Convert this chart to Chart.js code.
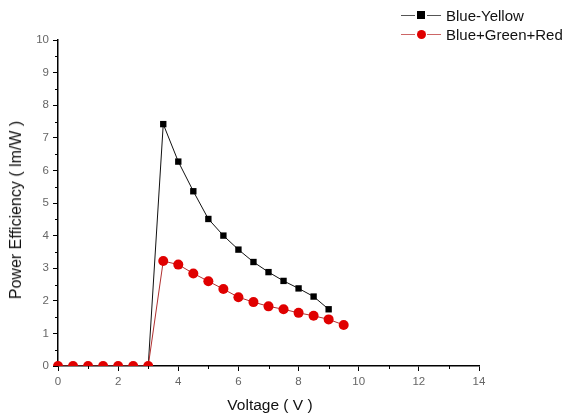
<!DOCTYPE html>
<html>
<head>
<meta charset="utf-8">
<script src="https://cdn.jsdelivr.net/npm/chart.js@4/dist/chart.umd.min.js"></script>
<style>
  html, body { margin:0; padding:0; background:#fff; }
  #wrap { position:relative; width:566px; height:418px; font-family:"Liberation Sans", Arial, sans-serif; }
  #c { position:absolute; left:0; top:0; }
  .legend { position:absolute; left:400px; top:6px; font-size:15px; color:#111; }
  .row { display:flex; align-items:center; height:19px; }
  .key { position:relative; width:42px; height:19px; margin-right:4px; }
  .key .l1 { position:absolute; left:1px; width:14px; top:9px; height:1px; }
  .key .l2 { position:absolute; left:27px; width:14px; top:9px; height:1px; }
  .key .mk { position:absolute; left:17px; top:5px; width:8px; height:8px; }
  .xt { position:absolute; left:170px; width:200px; top:396px; text-align:center; font-size:15.5px; color:#111; }
  .yt { position:absolute; left:15.5px; top:210px; font-size:16px; color:#111; white-space:nowrap; transform:translate(-50%,-50%) rotate(-90deg); }
</style>
</head>
<body>
<div id="wrap">
<canvas id="c" width="566" height="418"></canvas>
<div class="legend">
  <div class="row"><div class="key"><div class="l1" style="background:#555"></div><div class="mk" style="background:#000"></div><div class="l2" style="background:#555"></div></div>Blue-Yellow</div>
  <div class="row"><div class="key"><div class="l1" style="background:#c66"></div><div class="mk" style="background:#e00000;border-radius:50%;width:9px;height:9px;left:16.5px;top:4.5px"></div><div class="l2" style="background:#c66"></div></div>Blue+Green+Red</div>
</div>
<div class="xt">Voltage ( V )</div>
<div class="yt">Power Efficiency ( lm/W )</div>
</div>
<script>
const voltage = [0, 0.5, 1, 1.5, 2, 2.5, 3, 3.5, 4, 4.5, 5, 5.5, 6, 6.5, 7, 7.5, 8, 8.5, 9, 9.5];
const blueYellow = [0, 0, 0, 0, 0, 0, 0, 7.42, 6.27, 5.36, 4.51, 4.00, 3.57, 3.19, 2.88, 2.61, 2.38, 2.13, 1.74, null];
const blueGreenRed = [0, 0, 0, 0, 0, 0, 0, 3.22, 3.11, 2.84, 2.60, 2.36, 2.11, 1.96, 1.83, 1.74, 1.63, 1.54, 1.43, 1.26];
const xTicks = [0, 2, 4, 6, 8, 10, 12, 14];
const yTicks = [0, 1, 2, 3, 4, 5, 6, 7, 8, 9, 10];

function pts(ys) {
  const out = [];
  ys.forEach((y, i) => { if (y !== null) out.push({ x: voltage[i], y: y }); });
  return out;
}

const minorTicks = {
  id: 'minorTicks',
  afterDraw(chart) {
    const ctx = chart.ctx, xs = chart.scales.x, ys = chart.scales.y;
    ctx.save();
    ctx.strokeStyle = '#000';
    ctx.lineWidth = 1;
    ctx.beginPath();
    for (let v = 1; v < 14; v += 2) {
      const px = Math.round(xs.getPixelForValue(v)) + 0.5;
      ctx.moveTo(px, ys.bottom); ctx.lineTo(px, ys.bottom + 3);
    }
    for (let v = 0.5; v < 10; v += 1) {
      const py = Math.round(ys.getPixelForValue(v)) + 0.5;
      ctx.moveTo(xs.left, py); ctx.lineTo(xs.left - 3, py);
    }
    ctx.stroke();
    ctx.restore();
  }
};

new Chart(document.getElementById('c'), {
  type: 'line',
  data: {
    datasets: [
      {
        label: 'Blue-Yellow',
        data: pts(blueYellow),
        borderColor: '#111',
        borderWidth: 1,
        backgroundColor: '#000',
        pointStyle: 'rect',
        pointRadius: 4.5,
        pointBorderWidth: 0,
        tension: 0,
        order: 1,
        clip: { left: 6, top: 6, right: 6, bottom: 0 }
      },
      {
        label: 'Blue+Green+Red',
        data: pts(blueGreenRed),
        borderColor: '#b03030',
        borderWidth: 1,
        backgroundColor: '#e00000',
        pointStyle: 'circle',
        pointRadius: 5,
        pointBorderWidth: 0,
        tension: 0,
        order: 0,
        clip: { left: 6, top: 6, right: 6, bottom: 0 }
      }
    ]
  },
  options: {
    responsive: false,
    animation: false,
    layout: { padding: { top: 40, right: 87, bottom: 0, left: 0 } },
    plugins: { legend: { display: false }, tooltip: { enabled: false } },
    scales: {
      x: {
        type: 'linear', min: 0, max: 14,
        afterBuildTicks: s => { s.ticks = xTicks.map(v => ({ value: v })); },
        afterFit: s => { s.height = 52; },
        grid: { display: true, drawOnChartArea: false, color: '#000', tickLength: 5 },
        border: { color: '#000', width: 1.5 },
        ticks: { color: '#666', font: { family: 'Liberation Sans', size: 11.5 }, padding: 4, maxRotation: 0 }
      },
      y: {
        type: 'linear', min: 0, max: 10,
        afterBuildTicks: s => { s.ticks = yTicks.map(v => ({ value: v })); },
        afterFit: s => { s.width = 58; },
        grid: { display: true, drawOnChartArea: false, color: '#000', tickLength: 5 },
        border: { color: '#000', width: 1.5 },
        ticks: { color: '#666', font: { family: 'Liberation Sans', size: 11.5 }, padding: 4 }
      }
    }
  },
  plugins: [minorTicks]
});
</script>
</body>
</html>
